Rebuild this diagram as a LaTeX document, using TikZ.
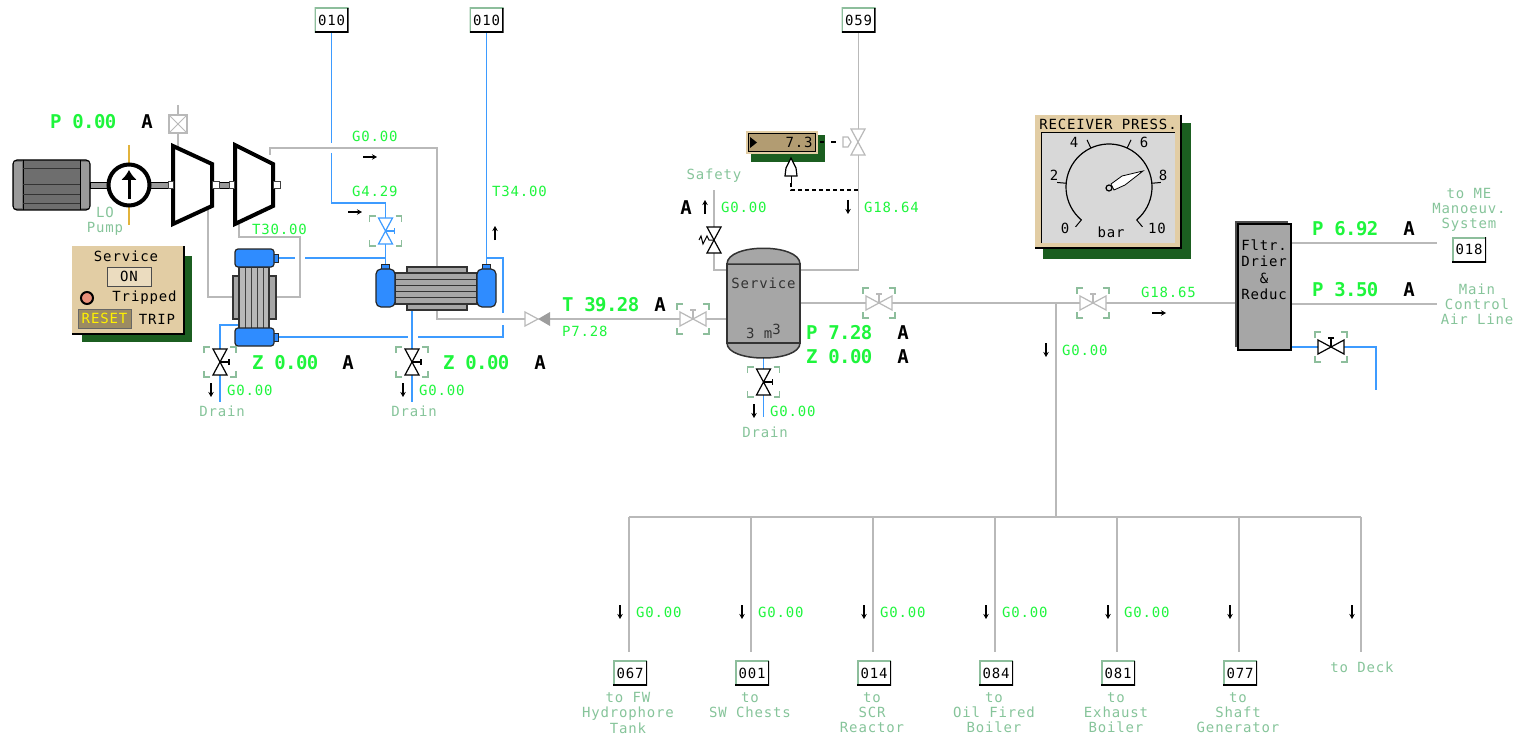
\documentclass[tikz,border=0pt]{standalone}
\usepackage{fontspec}
\setmonofont[LetterSpace=6]{DejaVu Sans Mono}
\newfontfamily\readfont[LetterSpace=-3]{DejaVu Sans Mono}
\usepackage{xcolor}
\usepackage{tikz}
\usetikzlibrary{arrows.meta,backgrounds}
\definecolor{airgray}{HTML}{B9B9B9}
\definecolor{wetblue}{HTML}{3D9BFF}
\definecolor{headblue}{HTML}{2F8CFF}
\definecolor{metal}{HTML}{A6A6A6}
\definecolor{darkmetal}{HTML}{6E6E6E}
\definecolor{palegreen}{HTML}{86C49A}
\definecolor{brkgreen}{HTML}{8DBE9C}
\definecolor{valuegreen}{HTML}{1EF53C}
\definecolor{paneltan}{HTML}{E2CDA4}
\definecolor{shadegreen}{HTML}{1B5E20}
\definecolor{dialgray}{HTML}{D8D8D8}
\definecolor{resetbg}{HTML}{9C8B62}
\definecolor{windowbg}{HTML}{B29C72}
\definecolor{lubeline}{HTML}{E2B33C}
\definecolor{lampred}{HTML}{E8907A}
\tikzset{
  txt/.style={font=\fontsize{14}{15.2}\selectfont\ttfamily,inner sep=0pt,outer sep=0pt,align=center},
  pale/.style={txt,text=palegreen},
  flowval/.style={txt,text=valuegreen,anchor=west},
  reading/.style={font=\fontsize{19}{19}\selectfont\readfont\bfseries,text=valuegreen,inner sep=0pt,outer sep=0pt,anchor=west},
  modeA/.style={font=\fontsize{19}{19}\selectfont\readfont\bfseries,text=black,inner sep=0pt,outer sep=0pt},
  air/.style={draw=airgray,line width=1.7pt},
  wet/.style={draw=wetblue,line width=1.7pt},
  tagbox/.style={txt,fill=white,minimum width=34pt,minimum height=25pt,
    path picture={
      \draw[brkgreen,line width=3pt] (path picture bounding box.south west) -- (path picture bounding box.north west) -- (path picture bounding box.north east);
      \draw[black,line width=3pt] (path picture bounding box.north east) -- (path picture bounding box.south east) -- (path picture bounding box.south west);}},
  box/.style={inner sep=0pt,outer sep=0pt,rectangle},
  heavy/.style={draw=black,line width=4pt,fill=white,line join=miter},
  vessel/.style={box,draw=black!80,line width=1.2pt,fill=metal},
  waterhead/.style={box,draw=black!85,line width=1.2pt,fill=headblue,rounded corners=3pt},
  nub/.style={box,draw=black!85,line width=1pt,fill=headblue},
  collar/.style={box,draw=black!75,line width=.8pt,fill=white},
  shadow/.style={box,fill=shadegreen},
  brkline/.style={draw=brkgreen,line width=1.3pt},
  flowtip/.style={draw=black,line width=1.2pt,-{Stealth[length=5pt,width=5.5pt]}},
  pics/brk/.style={code={
    \draw[brkline] (-16,-9) -- (-16,-15) -- (-10,-15) (10,-15) -- (16,-15) -- (16,-9)
      (16,9) -- (16,15) -- (10,15) (-10,15) -- (-16,15) -- (-16,9);}},
  pics/vbody/.style={code={
    \draw[#1,fill=white,line width=1.2pt] (-7,-13) -- (7,-13) -- (-7,13) -- (7,13) -- cycle;}},
  pics/vvalve/.style={code={
    \draw[#1,fill=white,line width=1.2pt] (-7,-13) -- (7,-13) -- (-7,13) -- (7,13) -- cycle;
    \draw[#1,line width=1.2pt] (0,0) -- (9,0) (9,-3) -- (9,3);}},
  pics/hvalve/.style={code={
    \draw[#1,fill=white,line width=1.2pt] (-13,-7) -- (-13,7) -- (13,-7) -- (13,7) -- cycle;
    \draw[#1,line width=1.2pt] (0,0) -- (0,-9) (-3,-9) -- (3,-9);}},
  pics/flowdown/.style={code={\draw[flowtip] (0,-7) -- (0,7);}},
  pics/flowup/.style={code={\draw[flowtip] (0,7) -- (0,-7);}},
  pics/flowright/.style={code={\draw[flowtip] (-7,0) -- (7,0);}},
}

\begin{document}
\begin{tikzpicture}[x=1pt,y=-1pt]
  \useasboundingbox (0,0) rectangle (1520,738);

  % motor, pump, compressors
  \node[box,draw=black,line width=1.2pt,fill=darkmetal,rounded corners=4pt,minimum width=77pt,minimum height=50pt] (motor) at (51.5,185) {};
  \fill[black!25,opacity=.55] (14,162) rectangle (22,208) (81,162) rectangle (89,208);
  \draw[black,line width=1pt] (23,160) -- (23,210) (80,160) -- (80,210);
  \foreach \y in {169,185,195,204} \draw[black!80,line width=1pt] (23,\y) -- (80,\y);
  \node[box,draw=black,line width=.8pt,fill=darkmetal!70,minimum width=18pt,minimum height=6pt] (shaftA) at (99,185) {};
  \node[box,draw=black,line width=.8pt,fill=darkmetal!70,minimum width=20pt,minimum height=6pt] (shaftB) at (160,185) {};
  \node[box,draw=black,line width=.8pt,fill=darkmetal!70,minimum width=16pt,minimum height=6pt] (shaftC) at (224,185) {};
  \node[circle,draw=black,line width=4pt,fill=white,inner sep=0pt,outer sep=0pt,minimum size=41pt] (pump) at (129,185) {};
  \draw[black,line width=3pt,-{Latex[length=10pt,width=16pt]}] (129,199) -- (129,170);
  \draw[heavy] (173,146) -- (212,164) -- (212,206) -- (173,224) -- cycle;
  \draw[heavy] (235,145) -- (273,164) -- (273,206) -- (235,224) -- cycle;
  \node[collar,minimum width=5pt,minimum height=7pt] (collarA) at (170.5,184.5) {};
  \node[collar,minimum width=7pt,minimum height=7pt] (collarB) at (215.5,184.5) {};
  \node[collar,minimum width=5pt,minimum height=7pt] (collarC) at (232,184.5) {};
  \node[collar,minimum width=7pt,minimum height=7pt] (collarD) at (276.5,184.5) {};
  \node[box,draw=airgray,line width=1.5pt,fill=white,minimum size=18pt] (trip) at (178,124) {};
  \draw[airgray,line width=1pt] (trip.north west) -- (trip.south east) (trip.north east) -- (trip.south west);
  \node[reading] (pComp) at (50,122) {P 0.00};
  \node[modeA] (aComp) at (147,122) {A};
  \node[pale] (pumpLbl) at (105,221) {LO\\Pump};

  % service panel
  \node[shadow,minimum width=110pt,minimum height=86pt] (svcShadow) at (137,299) {};
  \node[box,fill=paneltan,minimum width=112pt,minimum height=88pt] (svcPanel) at (128,290) {};
  \draw[black,line width=1.2pt] (svcPanel.north east) |- (svcPanel.south west);
  \node[txt] (svcLbl) at (126,256) {Service};
  \node[txt,box,draw=black!70,line width=.8pt,fill=paneltan!70!white,minimum width=44pt,minimum height=19pt] (svcOn) at (129,276.5) {ON};
  \node[circle,draw=black,line width=2pt,fill=lampred,inner sep=0pt,outer sep=0pt,minimum size=12pt] (svcLamp) at (87,298) {};
  \node[txt] (svcTrip) at (144.5,298) {Tripped};
  \node[txt,box,text=yellow,draw=black!60,line width=1pt,fill=resetbg,minimum width=53pt,minimum height=19pt] (svcReset) at (104.5,318.5) {RESET};
  \node[txt] (svcTripBtn) at (157,319) {TRIP};

  % oil cooler
  \node[vessel,minimum width=43pt,minimum height=43pt] (clrPlate) at (254.5,297.5) {};
  \node[vessel,fill=metal!80,minimum width=30pt,minimum height=62pt] (clrTube) at (254,298) {};
  \foreach \x in {245,251,257,263} \draw[black!75,line width=1pt] (\x,267) -- (\x,329);
  \node[nub,minimum width=5pt,minimum height=8pt] (clrTopNub) at (276,258) {};
  \node[nub,minimum width=5pt,minimum height=8pt] (clrBotNub) at (276,337) {};
  \node[waterhead,minimum width=39pt,minimum height=18pt] (clrTop) at (254.5,258) {};
  \node[waterhead,minimum width=39pt,minimum height=18pt] (clrBot) at (254.5,337) {};
  \node[reading] (zClr) at (252,363) {Z 0.00};
  \node[modeA] (aClr) at (348,363) {A};
  \node[flowval] (tClr) at (252,229) {T30.00};
  \node[flowval] (gClr) at (227,390) {G0.00};
  \node[pale] (drainClr) at (222,411) {Drain};

  % air cooler
  \node[vessel,minimum width=60pt,minimum height=43pt] (xchPlate) at (437,288.5) {};
  \node[vessel,minimum width=82pt,minimum height=31pt] (xchTube) at (436,288.5) {};
  \foreach \y in {279,285,291,297} \draw[black!80,line width=1pt] (395,\y) -- (477,\y);
  \node[nub,minimum width=8pt,minimum height=5pt] (xchLNub) at (385.5,267) {};
  \node[nub,minimum width=8pt,minimum height=5pt] (xchRNub) at (486.5,267) {};
  \node[waterhead,rounded corners=5pt,minimum width=19pt,minimum height=38pt] (xchL) at (385.5,288) {};
  \node[waterhead,rounded corners=5pt,minimum width=19pt,minimum height=38pt] (xchR) at (486.5,288) {};
  \node[reading] (zXch) at (443,363) {Z 0.00};
  \node[modeA] (aXch) at (540,363) {A};
  \node[flowval] (gAir) at (352,136) {G0.00};
  \node[flowval] (gWet) at (352,191) {G4.29};
  \node[flowval] (tWet) at (492,191) {T34.00};
  \node[flowval] (gXch) at (419,390) {G0.00};
  \node[pale] (drainXch) at (414,411) {Drain};
  \node[reading] (tAir) at (562,305) {T 39.28};
  \node[modeA] (aAir) at (660,305) {A};
  \node[flowval] (pAir) at (562,331) {P7.28};

  % service receiver
  \node[vessel,line width=1.5pt,minimum width=73pt,minimum height=79pt] (tank) at (763.5,303.5) {};
  \draw[black!80,line width=1.5pt,fill=metal] (tank.north west) .. controls (727,243) and (800,243) .. (tank.north east) -- cycle;
  \draw[black!80,line width=1.5pt,fill=metal] (tank.south west) .. controls (727,363) and (800,363) .. (tank.south east) -- cycle;
  \node[txt,text=black!80] (tankLbl) at (763.5,283) {Service};
  \node[txt,text=black!80] (tankVol) at (763.5,331) {3 m\raisebox{4pt}{3}};
  \node[reading] (pTank) at (806,333) {P 7.28};
  \node[modeA] (aTank) at (903,333) {A};
  \node[reading] (zTank) at (806,357) {Z 0.00};
  \node[modeA] (aTankZ) at (903,357) {A};
  \node[pale] (safetyLbl) at (714,176) {Safety};
  \node[modeA] (aSafety) at (686,208) {A};
  \node[flowval] (gSafety) at (721,207) {G0.00};
  \node[flowval] (gTank) at (864,207) {G18.64};
  \node[flowval] (gDrain) at (770,411) {G0.00};
  \node[pale] (drainTank) at (765,432) {Drain};

  % pressure indicator
  \node[shadow,minimum width=74pt,minimum height=27pt] (indShadow) at (788,148.5) {};
  \node[box,fill=paneltan,minimum width=72pt,minimum height=23pt] (indFrame) at (782,142.5) {};
  \node[box,draw=black,line width=1.2pt,fill=windowbg,minimum width=67pt,minimum height=18pt] (indWin) at (782,142.5) {};
  \node[txt] (indVal) at (799,142.5) {7.3};
  \fill[black] (750,137) -- (757,142.5) -- (750,148) -- cycle;
  \draw[black,fill=white,line width=1.2pt] (791,158) -- (796,168) -- (797,176) -- (785,176) -- (786,168) -- cycle;
  \coordinate (sensor) at (791,176);

  % receiver gauge
  \node[shadow,minimum width=148pt,minimum height=136pt] (gaugeShadow) at (1117,191) {};
  \node[box,fill=paneltan,minimum width=146pt,minimum height=133pt] (gaugeFrame) at (1108,181.5) {};
  \draw[black,line width=1.5pt] (gaugeFrame.north east) |- (gaugeFrame.south west);
  \node[box,fill=dialgray,minimum width=134pt,minimum height=110pt] (gaugeFace) at (1108,188) {};
  \draw[black,line width=1pt] (gaugeFace.south west) |- (gaugeFace.north east);
  \node[txt] (gaugeTtl) at (1108,124) {RECEIVER PRESS.};
  \coordinate (dial) at (1109,187);
  \draw[black,line width=1.2pt,shift={(dial)},domain=-230:50,samples=50,smooth] plot (\x:43);
  \foreach \a in {-230,-175,-115,-65,-5,50} \draw[black,line width=1pt,shift={(dial)}] (\a:43) -- (\a:52);
  \foreach \lab/\x/\y in {0/1065/228,2/1054/175,4/1074/142,6/1144/142,8/1163/175,10/1157/228} \node[txt] (dial\lab) at (\x,\y) {\lab};
  \node[txt] (dialBar) at (1111,232) {bar};
  \draw[black,fill=white,line width=.8pt] (1143,171) -- (1122,176) -- (1111,184) -- (1114,190) -- (1125,185) -- cycle;
  \node[circle,draw=black,line width=1.2pt,fill=dialgray,inner sep=0pt,minimum size=6pt] (dialHub) at (1109,188) {};

  % filter
  \fill[black!70] (1235,221) rectangle (1288,347);
  \node[vessel,draw=black,minimum width=53pt,minimum height=126pt] (filter) at (1264.5,287) {};
  \node[txt,anchor=north,font=\fontsize{14}{16.2}\selectfont\ttfamily] (filterLbl) at (1264,240) {Fltr.\\Drier\\\&\\Reduc};
  \node[reading] (pMe) at (1312,229) {P 6.92};
  \node[modeA] (aMe) at (1409,229) {A};
  \node[reading] (pCtrl) at (1312,290) {P 3.50};
  \node[modeA] (aCtrl) at (1409,290) {A};
  \node[tagbox] (tag018) at (1469,249.5) {018};
  \node[pale] (meLbl) at (1469,210) {to ME\\Manoeuv.\\System};
  \node[pale] (ctrlLbl) at (1477,304) {Main\\Control\\Air Line};
  \node[flowval] (gMain) at (1141,292) {G18.65};
  \node[flowval] (gBranch) at (1062,350) {G0.00};

  % top tags
  \node[tagbox] (tag010a) at (331.5,20.5) {010};
  \node[tagbox] (tag010b) at (486.5,20.5) {010};
  \node[tagbox] (tag059) at (858.5,20.5) {059};

  % consumers
  \foreach \x/\num/\txt in {629/067/to FW\\Hydrophore\\Tank,751/001/to\\SW Chests,873/014/to\\SCR\\Reactor,995/084/to\\Oil Fired\\Boiler,1117/081/to\\Exhaust\\Boiler,1239/077/to\\Shaft\\Generator} {
    \node[tagbox] (tag\num) at (\x+1,673) {\num};
    \node[pale,anchor=north] (lbl\num) at (\x-1,692.5) {\txt};
    \coordinate (hdr\num) at (\x,517);
    \coordinate (end\num) at (\x,652);
    \pic at (\x-9,612) {flowdown};
  }
  \foreach \x/\num in {629/067,751/001,873/014,995/084,1117/081}
    \node[flowval] (g\num) at (\x+7,612) {G0.00};
  \coordinate (hdrDeck) at (1361,517);
  \coordinate (endDeck) at (1361,652);
  \node[pale] (deckLbl) at (1362,667) {to Deck};
  \pic at (1352,612) {flowdown};

  % free ends and bends
  \coordinate (tripIn) at (178,105);
  \coordinate (tripOut) at (178,147);
  \coordinate (lubeTop) at (129,145);
  \coordinate (lubeBot) at (129,225);
  \coordinate (compBout) at (270,155);
  \coordinate (airTop) at (437,148);
  \coordinate (xchAirIn) at (437,267);
  \coordinate (xchAirOut) at (437,310);
  \coordinate (interA) at (239,222);
  \coordinate (interB) at (300,237);
  \coordinate (clrShellIn) at (233,297);
  \coordinate (clrShellOut) at (276,297);
  \coordinate (compAout) at (208,210);
  \coordinate (chkIn) at (525,319);
  \coordinate (chkOut) at (550,319);
  \coordinate (airMain) at (800,303);
  \coordinate (tankTR) at (800,270);
  \coordinate (tankTL) at (727,270);
  \coordinate (safetyEnd) at (714,190);
  \coordinate (mePort) at (1437,243);
  \coordinate (ctrlPort) at (1437,304);
  \coordinate (branchTop) at (1056,303);
  \coordinate (branchBot) at (1056,517);
  \coordinate (breakA) at (331.5,143);
  \coordinate (breakB) at (331.5,153);
  \coordinate (turnA) at (385.5,203);
  \coordinate (gapC) at (295,258);
  \coordinate (gapD) at (305,258);
  \coordinate (inletJoin) at (385.5,258);
  \coordinate (gapE) at (408,337);
  \coordinate (gapF) at (418,337);
  \coordinate (gapG) at (503,325);
  \coordinate (gapH) at (503,313);
  \coordinate (outletJoin) at (486.5,258);
  \coordinate (xchDrainIn) at (412,310);
  \coordinate (xchDrainEnd) at (412,402);
  \coordinate (clrDrainIn) at (239,325);
  \coordinate (clrDrainEnd) at (220,402);
  \coordinate (tankDrainEnd) at (763.5,417);
  \coordinate (wetOut) at (1291,347);
  \coordinate (wetEnd) at (1376,390);
  \coordinate (sensorStem) at (791,183);
  \coordinate (pilotTee) at (858,190);

  \begin{scope}[on background layer]
    \draw[lubeline,line width=1.5pt] (lubeTop) -- (lubeBot);
    \draw[air] (tripIn) -- (trip.north) (trip.south) -- (tripOut);
    \draw[air] (compBout) |- (airTop) -- (xchAirIn);
    \draw[air] (interA) |- (interB) |- (clrShellOut);
    \draw[air] (compAout) |- (clrShellIn);
    \draw[air] (xchAirOut) |- (chkIn);
    \draw[air] (chkOut) -- (chkOut -| tank.west);
    \draw[air] (airMain) -- (filter.west |- airMain);
    \draw[air] (tankTR) -| (tag059.south);
    \draw[air] (tankTL) -| (safetyEnd);
    \draw[air] (filter.east |- mePort) -- (mePort);
    \draw[air] (filter.east |- ctrlPort) -- (ctrlPort);
    \draw[air] (branchTop) -- (branchBot);
    \draw[air] (hdr067) -- (hdrDeck);
    \foreach \num in {067,001,014,084,081,077,Deck} \draw[air] (hdr\num) -- (end\num);
    \draw[wet] (tag010a.south) -- (breakA);
    \draw[wet] (breakB) |- (turnA) -- (xchLNub.north);
    \draw[wet] (clrTopNub.east) -- (gapC);
    \draw[wet] (gapD) -- (inletJoin);
    \draw[wet] (clrBotNub.east) -- (gapE);
    \draw[wet] (gapF) -| (gapG);
    \draw[wet] (gapH) |- (outletJoin);
    \draw[wet] (xchRNub.north) -- (tag010b.south);
    \draw[wet] (xchDrainIn) -- (xchDrainEnd);
    \draw[wet] (clrDrainIn) -| (clrDrainEnd);
    \draw[wet] (tank.south) -- (tankDrainEnd);
    \draw[wet] (wetOut) -| (wetEnd);
  \end{scope}
  \draw[black,line width=1pt] (sensor) -- (sensorStem);
  \draw[black,line width=1.2pt,dash pattern=on 4pt off 3pt] (sensorStem) |- (pilotTee);

  % valves
  \pic at (220,362) {brk}; \pic at (220,362) {vvalve=black};
  \pic at (412,362) {brk}; \pic at (412,362) {vvalve=black};
  \pic at (385.5,231) {brk}; \pic at (385.5,231) {vvalve=wetblue};
  \pic at (763.5,382) {brk}; \pic at (763.5,382) {vvalve=black};
  \pic at (693,319) {brk}; \pic at (693,319) {hvalve=airgray};
  \pic at (879,303) {brk}; \pic at (879,303) {hvalve=airgray};
  \pic at (1093,303) {brk}; \pic at (1093,303) {hvalve=airgray};
  \pic at (1331,347) {brk}; \pic at (1331,347) {hvalve=black};
  \pic at (714,240) {vbody=black};
  \draw[black,line width=1pt] (714,240) -- (709,240) -- (707,236) -- (703,244) -- (701,236) -- (699,240);
  \pic at (858,142) {vbody=airgray};
  \draw[airgray,line width=1.2pt,fill=white] (851,142) -- (848,137) -- (843,137) -- (843,147) -- (848,147) -- cycle;
  \draw[black,line width=1.2pt] (820,142) -- (824,142) (831,142) -- (836,142);
  \draw[airgray,line width=1.2pt,fill=white] (525,312) -- (538,319) -- (525,326) -- cycle;
  \fill[airgray!85!black] (550,312) -- (538,319) -- (550,326) -- cycle;

  % flow arrows
  \pic at (211,390) {flowdown};
  \pic at (403,390) {flowdown};
  \pic at (754,411) {flowdown};
  \pic at (848,207) {flowdown};
  \pic at (1046,350) {flowdown};
  \pic at (705,207) {flowup};
  \pic at (495,233) {flowup};
  \pic at (370,157) {flowright};
  \pic at (355,212) {flowright};
  \pic at (1159,313) {flowright};
\end{tikzpicture}
\end{document}
